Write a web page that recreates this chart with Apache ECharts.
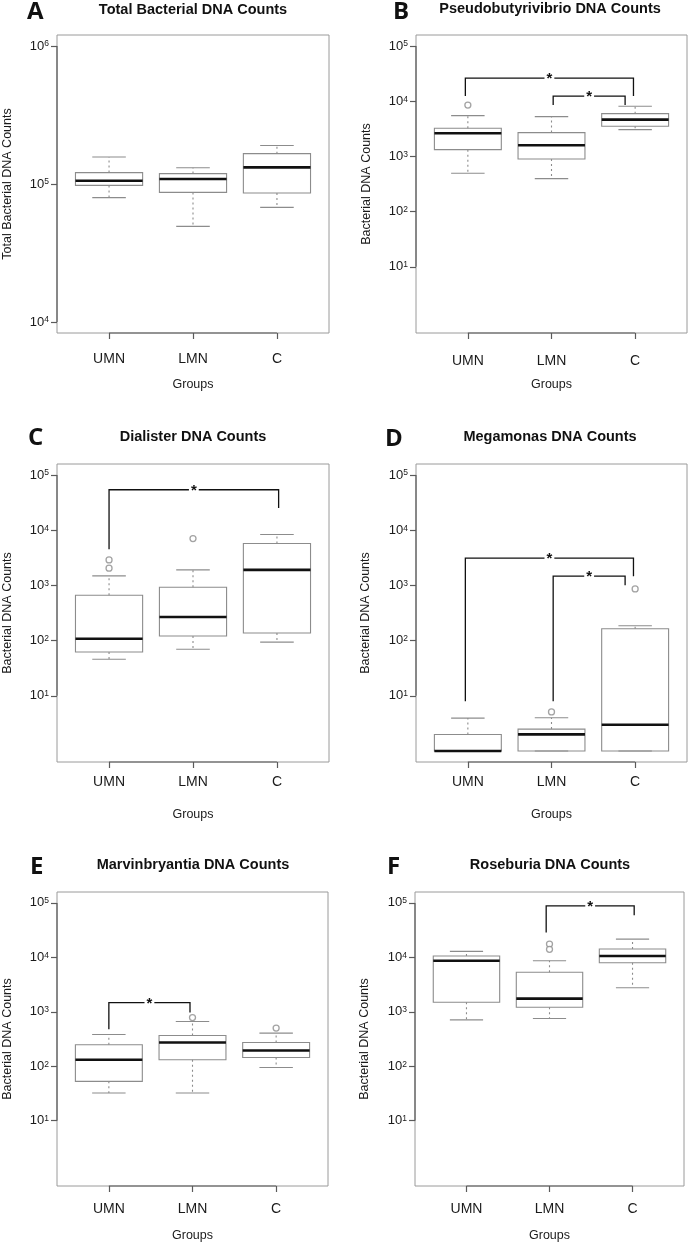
<!DOCTYPE html>
<html><head><meta charset="utf-8">
<script src="https://cdn.jsdelivr.net/npm/echarts@6/dist/echarts.min.js"></script>
<style>html,body{margin:0;padding:0;background:#fff}#c{width:691px;height:1242px}</style>
</head><body><div id="c"></div>
<script>
// ---------------- data ----------------
const groups = ['UMN', 'LMN', 'C'];
const xTicks = [1, 2, 3];
const totalTicks = [4, 5, 6];          // exponents of 10
const genusTicks = [1, 2, 3, 4, 5];

// Box statistics per group: [lower whisker, Q1, median, Q3, upper whisker]
const totalStats = [[79600, 97700, 105700, 121000, 157000], [49300, 86900, 108700, 119000, 131000], [67700, 86100, 132000, 166000, 190000]];
const pseudoStats = [[494, 1327, 2620, 3230, 5480], [396, 897, 1590, 2700, 5260], [3060, 3510, 4640, 5960, 8090]];
const dialisterStats = [[46, 62, 108, 664, 1486], [69.5, 121, 268, 927, 1910], [94, 137, 1910, 5740, 8360]];
const megamonasStats = [[1, 1, 1, 1.99, 3.94], [1, 1, 2, 2.49, 4], [1, 1, 2.98, 164, 186]];
const marvinStats = [[32.3, 52.7, 131.6, 248, 382], [32.3, 131.6, 273, 367, 662], [95, 145, 194.6, 273, 406]];
const roseburiaStats = [[711, 1500, 8670, 10570, 12880], [751, 1213, 1746, 5310, 8670], [2770, 7960, 10570, 14190, 21630]];

// Outliers: [group position (1-based), value]
const totalOutliers = [];
const pseudoOutliers = [[1, 8530]];
const dialisterOutliers = [[1, 2900], [1, 2050], [2, 7060]];
const megamonasOutliers = [[2, 5.1], [3, 863]];
const marvinOutliers = [[2, 783], [3, 501]];
const roseburiaOutliers = [[2, 17540], [2, 14030]];

// Significance brackets: [x from, x to, top value, left leg end, right leg end]
const totalBrackets = [];
const pseudoBrackets = [[0.97, 2.98, 26300, 12400, 12400], [2.02, 2.88, 12400, 8530, 8530]];
const dialisterBrackets = [[1.0, 3.02, 54100, 4540, 25200]];
const megamonasBrackets = [[0.97, 2.98, 3120, 8.0, 1470], [2.02, 2.88, 1470, 8.0, 1010]];
const marvinBrackets = [[1.0, 1.97, 1470, 480, 966]];
const roseburiaBrackets = [[1.96, 3.02, 88100, 28700, 59600]];

// ---------------- layout ----------------
const FONT = '"Liberation Sans", Arial, sans-serif';
const panels = [
  {letter: 'A', title: 'Total Bacterial DNA Counts', yName: 'Total Bacterial DNA Counts', stats: totalStats, out: totalOutliers, br: totalBrackets, ticks: totalTicks,
   grid: {left: 57, top: 35, width: 272, height: 298}, titleXY: [193, 9.5], letterXY: [27, 12.5], xm: 19.6, xg: 45.4, yg: 42.7},
  {letter: 'B', title: 'Pseudobutyrivibrio DNA Counts', yName: 'Bacterial DNA Counts', stats: pseudoStats, out: pseudoOutliers, br: pseudoBrackets, ticks: genusTicks,
   grid: {left: 416, top: 35, width: 271, height: 298}, titleXY: [550, 9], letterXY: [393, 12.5], xm: 21, xg: 45.4, yg: 42.7},
  {letter: 'C', title: 'Dialister DNA Counts', yName: 'Bacterial DNA Counts', stats: dialisterStats, out: dialisterOutliers, br: dialisterBrackets, ticks: genusTicks,
   grid: {left: 57, top: 464, width: 272, height: 298}, titleXY: [193, 437], letterXY: [28, 438.5], xm: 13.3, xg: 46.4, yg: 42.7},
  {letter: 'D', title: 'Megamonas DNA Counts', yName: 'Bacterial DNA Counts', stats: megamonasStats, out: megamonasOutliers, br: megamonasBrackets, ticks: genusTicks,
   grid: {left: 416, top: 464, width: 271, height: 298}, titleXY: [550, 437], letterXY: [385, 439.5], xm: 13, xg: 46.4, yg: 44.4},
  {letter: 'E', title: 'Marvinbryantia DNA Counts', yName: 'Bacterial DNA Counts', stats: marvinStats, out: marvinOutliers, br: marvinBrackets, ticks: genusTicks,
   grid: {left: 57, top: 892, width: 271, height: 294}, titleXY: [193, 865], letterXY: [30, 867], xm: 16.3, xg: 42.8, yg: 42.7},
  {letter: 'F', title: 'Roseburia DNA Counts', yName: 'Bacterial DNA Counts', stats: roseburiaStats, out: roseburiaOutliers, br: roseburiaBrackets, ticks: genusTicks,
   grid: {left: 415, top: 892, width: 269, height: 294}, titleXY: [550, 865], letterXY: [387, 867], xm: 16.3, xg: 42.8, yg: 43.7}
];

const X_MIN = 0.38, X_MAX = 3.62;
const GREY = '#8c8c8c';
const AXIS = '#5a5a5a';
const lg = Math.log10;

function yRange(ticks) {
  const lo = ticks[0] === 4 ? 4 : 0, hi = ticks[ticks.length - 1];
  const d = (hi - lo) * 0.04;
  return [lo - d, hi + d];
}

function lineEl(p1, p2, style) {
  return {type: 'line', shape: {x1: p1[0], y1: p1[1], x2: p2[0], y2: p2[1]}, style: style};
}

function makeBoxRender(panel) {
  const yr = yRange(panel.ticks);
  return function (params, api) {
    const x = api.value(0);
    const lo = api.value(1), q1 = api.value(2), md = api.value(3), q3 = api.value(4), hi = api.value(5);
    const c = (xx, yy) => api.coord([xx, yy]);
    const hw = 0.4, sw = 0.2;
    const ch = [];
    const dash = {stroke: GREY, lineWidth: 1.1, lineDash: [2, 3]};
    const solid = {stroke: GREY, lineWidth: 1.1};
    if (hi > q3) ch.push(lineEl(c(x, q3), c(x, hi), dash));
    if (q1 > lo) ch.push(lineEl(c(x, q1), c(x, lo), dash));
    ch.push(lineEl(c(x - sw, hi), c(x + sw, hi), solid));
    ch.push(lineEl(c(x - sw, lo), c(x + sw, lo), solid));
    const tl = c(x - hw, q3), br = c(x + hw, q1);
    ch.push({type: 'rect', shape: {x: tl[0], y: tl[1], width: br[0] - tl[0], height: br[1] - tl[1]},
             style: {fill: 'none', stroke: GREY, lineWidth: 1.1}});
    ch.push(lineEl(c(x - hw, md), c(x + hw, md), {stroke: '#111', lineWidth: 2.6}));
    if (params.dataIndex === 0) {
      // R-style axis segments (from first to last tick)
      ch.push(lineEl(c(xTicks[0], yr[0]), c(xTicks[xTicks.length - 1], yr[0]), {stroke: AXIS, lineWidth: 1.2}));
      ch.push(lineEl(c(X_MIN, panel.ticks[0]), c(X_MIN, panel.ticks[panel.ticks.length - 1]), {stroke: AXIS, lineWidth: 1.2}));
    }
    return {type: 'group', children: ch};
  };
}

function bracketRender(params, api) {
  const x1 = api.value(0), x2 = api.value(1), top = api.value(2), l = api.value(3), r = api.value(4);
  const pts = [api.coord([x1, l]), api.coord([x1, top]), api.coord([x2, top]), api.coord([x2, r])];
  const mid = api.coord([(x1 + x2) / 2, top]);
  return {type: 'group', children: [
    {type: 'polyline', shape: {points: pts}, style: {stroke: '#111', lineWidth: 1.3, fill: null}},
    {type: 'text', x: mid[0], y: mid[1] + 1, style: {text: '*', fill: '#111', font: 'bold 15px ' + FONT,
      align: 'center', verticalAlign: 'middle', backgroundColor: '#fff', padding: [0, 2, 0, 2]}}
  ]};
}

const grids = [], xAxes = [], yAxes = [], series = [], graphics = [];
panels.forEach((p, i) => {
  grids.push(Object.assign({show: true, borderColor: '#9a9a9a', borderWidth: 1, backgroundColor: 'transparent', outerBoundsMode: 'none'}, p.grid));
  xAxes.push({
    gridIndex: i, type: 'value', min: X_MIN, max: X_MAX, position: 'bottom',
    axisLine: {show: false, onZero: false}, splitLine: {show: false},
    axisTick: {show: true, customValues: xTicks, length: 6, lineStyle: {color: AXIS, width: 1.2}},
    axisLabel: {customValues: xTicks, formatter: v => groups[Math.round(v) - 1], margin: p.xm,
      fontSize: 14, color: '#1a1a1a', fontFamily: FONT},
    name: 'Groups', nameLocation: 'middle', nameGap: p.xg, nameMoveOverlap: false,
    nameTextStyle: {fontSize: 12.5, color: '#1a1a1a', fontFamily: FONT}
  });
  const yr = yRange(p.ticks);
  yAxes.push({
    gridIndex: i, type: 'value', min: yr[0], max: yr[1],
    axisLine: {show: false, onZero: false}, splitLine: {show: false},
    axisTick: {show: true, customValues: p.ticks, length: 6, lineStyle: {color: AXIS, width: 1.2}},
    axisLabel: {customValues: p.ticks, margin: 8, formatter: v => '{b|10}{s|' + Math.round(v) + '}',
      rich: {b: {fontSize: 13, color: '#1a1a1a', fontFamily: FONT, verticalAlign: 'bottom'},
             s: {fontSize: 8.5, color: '#1a1a1a', fontFamily: FONT, verticalAlign: 'top'}}},
    name: p.yName, nameLocation: 'middle', nameGap: p.yg, nameMoveOverlap: false,
    nameTextStyle: {fontSize: 12.5, color: '#1a1a1a', fontFamily: FONT}
  });
  series.push({
    type: 'custom', xAxisIndex: i, yAxisIndex: i, renderItem: makeBoxRender(p),
    encode: {x: 0, y: [1, 2, 3, 4, 5]},
    data: p.stats.map((s, k) => [xTicks[k]].concat(s.map(lg))), silent: true
  });
  series.push({
    type: 'scatter', xAxisIndex: i, yAxisIndex: i, symbol: 'circle', symbolSize: 6,
    itemStyle: {color: '#fff', borderColor: GREY, borderWidth: 1.3},
    data: p.out.map(o => [o[0], lg(o[1])]), silent: true
  });
  series.push({
    type: 'custom', xAxisIndex: i, yAxisIndex: i, renderItem: bracketRender,
    encode: {x: [0, 1], y: [2, 3, 4]}, z: 5,
    data: p.br.map(b => [b[0], b[1], lg(b[2]), lg(b[3]), lg(b[4])]), silent: true
  });
  graphics.push({type: 'text', x: p.titleXY[0], y: p.titleXY[1],
    style: {text: p.title, font: 'bold 14.5px ' + FONT, fill: '#111', align: 'center', verticalAlign: 'middle'}});
  graphics.push({type: 'text', x: p.letterXY[0], y: p.letterXY[1],
    style: {text: p.letter, font: 'bold 24px "Open Sans", sans-serif', fill: '#111', align: 'left', verticalAlign: 'middle'}});
});

const chart = echarts.init(document.getElementById('c'), null, {renderer: 'canvas'});
chart.setOption({
  animation: false,
  backgroundColor: '#fff',
  grid: grids, xAxis: xAxes, yAxis: yAxes, series: series,
  graphic: graphics
});
</script>
</body></html>
